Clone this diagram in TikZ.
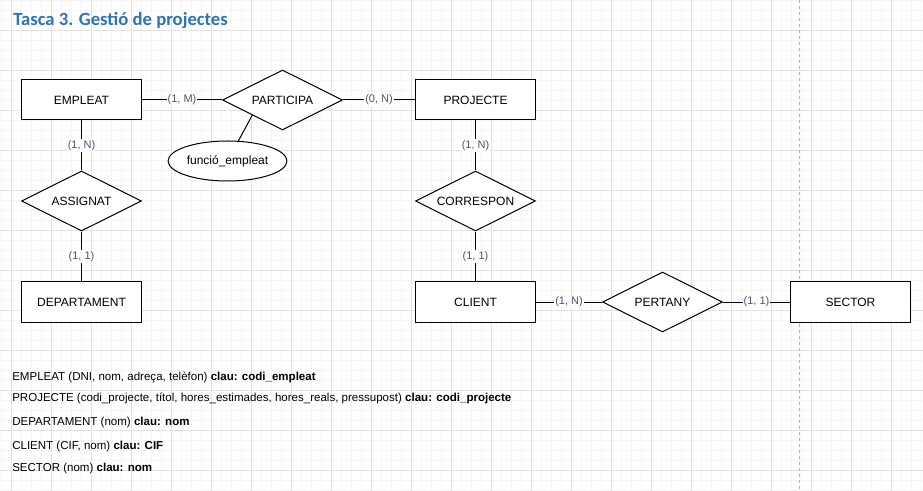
\documentclass[tikz,border=0pt]{standalone}
\usepackage{fontspec}
\setmainfont{Liberation Sans}
\newfontfamily\titlefont{Carlito}
\usepackage{tikz}
\usetikzlibrary{positioning,shapes.geometric}
\definecolor{gridmajor}{HTML}{E2E2E2}
\definecolor{gridminor}{HTML}{F5F5F5}
\definecolor{pagebreak}{HTML}{B4B4B4}
\definecolor{cardtext}{HTML}{4A5570}
\definecolor{titleblue}{HTML}{2E74B5}
\tikzset{
  entity/.style={draw, fill=white, line width=0.75pt, minimum width=90pt, minimum height=30pt, inner sep=1pt, font=\fontsize{9pt}{11pt}\selectfont},
  relation/.style={draw, diamond, aspect=2, fill=white, line width=0.75pt, minimum width=90pt, minimum height=45pt, inner sep=1pt, font=\fontsize{9pt}{11pt}\selectfont},
  attrib/.style={draw, ellipse, fill=white, line width=0.75pt, minimum width=82.5pt, minimum height=30pt, inner sep=1pt, font=\fontsize{9pt}{11pt}\selectfont},
  card/.style={fill=white, inner sep=0.75pt, text=cardtext, font=\fontsize{8.25pt}{10pt}\selectfont},
  link/.style={line width=0.75pt},
  rel/.style={anchor=west, inner sep=0pt, text height=7pt, text depth=2pt, font=\fontsize{8.65pt}{10pt}\selectfont},
  title/.style={inner sep=0pt, text=titleblue, font=\titlefont\bfseries\fontsize{14pt}{16pt}\selectfont},
}

\begin{document}
\begin{tikzpicture}[x=0.75pt, y=-0.75pt]
  \useasboundingbox[fill=white] (0,0) rectangle (923,491);
  % grid
  \foreach \gx in {1.5,11.5,...,921.5} \draw[gridminor, line width=0.75pt] (\gx,0) -- (\gx,491);
  \foreach \gy in {0.5,10.5,...,490.5} \draw[gridminor, line width=0.75pt] (0,\gy) -- (923,\gy);
  \foreach \gx in {11.5,51.5,...,891.5} \draw[gridmajor, line width=0.75pt] (\gx,0) -- (\gx,491);
  \foreach \gy in {30.5,70.5,...,470.5} \draw[gridmajor, line width=0.75pt] (0,\gy) -- (923,\gy);
  \draw[pagebreak, line width=0.75pt, dash pattern=on 2.5pt off 2pt] (799,0) -- (799,491);

  \node[title, anchor=base west] (titol) at (13,26) {Tasca 3. Gestió de projectes};

  \node[entity] (empleat) at (81.5,100) {EMPLEAT};
  \node[relation, right=60pt of empleat] (participa) {PARTICIPA};
  \node[entity, right=54pt of participa] (projecte) {PROJECTE};
  \node[attrib, below=7.5pt of participa, xshift=-41.25pt] (funcio) {funció\_empleat};
  \node[relation, below=37.5pt of empleat] (assignat) {ASSIGNAT};
  \node[entity, below=37.5pt of assignat] (departament) {DEPARTAMENT};
  \node[relation, below=37.5pt of projecte] (correspon) {CORRESPON};
  \node[entity, below=37.5pt of correspon] (client) {CLIENT};
  \node[relation, right=49.5pt of client] (pertany) {PERTANY};
  \node[entity, right=50.25pt of pertany] (sector) {SECTOR};

  \draw[link] (empleat) -- node[card] {(1, M)} (participa);
  \draw[link] (participa) -- node[card] {(0, N)} (projecte);
  \draw[link] (funcio) -- (participa.south west);
  \draw[link] (empleat) -- node[card] {(1, N)} (assignat);
  \draw[link] (assignat) -- node[card] {(1, 1)} (departament);
  \draw[link] (projecte) -- node[card] {(1, N)} (correspon);
  \draw[link] (correspon) -- node[card] {(1, 1)} (client);
  \draw[link] (client) -- node[card] {(1, N)} (pertany);
  \draw[link] (pertany) -- node[card] {(1, 1)} (sector);

  % relational schema
  \node[rel] (t1) at (12,377) {EMPLEAT (DNI, nom, adreça, telèfon) \textbf{clau: codi\_empleat}};
  \node[rel, below=15.75pt of t1.west, anchor=west] (t2) {PROJECTE (codi\_projecte, títol, hores\_estimades, hores\_reals, pressupost) \textbf{clau: codi\_projecte}};
  \node[rel, below=18pt of t2.west, anchor=west] (t3) {DEPARTAMENT (nom) \textbf{clau: nom}};
  \node[rel, below=18pt of t3.west, anchor=west] (t4) {CLIENT (CIF, nom) \textbf{clau: CIF}};
  \node[rel, below=16.5pt of t4.west, anchor=west] (t5) {SECTOR (nom) \textbf{clau: nom}};
\end{tikzpicture}
\end{document}
